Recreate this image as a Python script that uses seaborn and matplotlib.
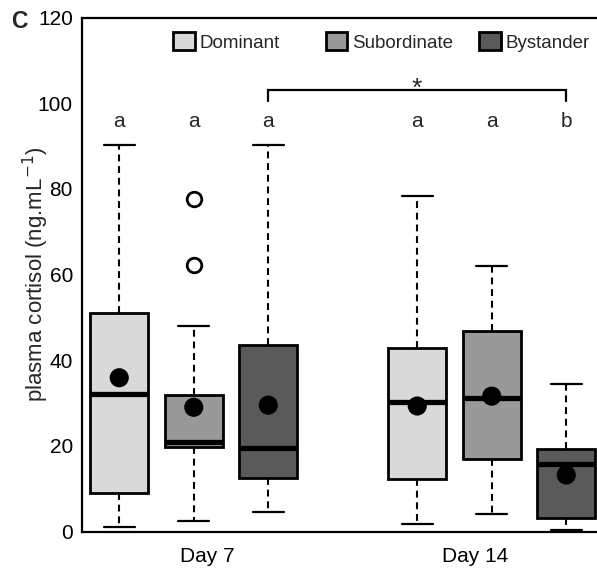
import numpy as np
import pandas as pd
import matplotlib
matplotlib.use("Agg")
import matplotlib.pyplot as plt
from matplotlib.patches import Patch
from matplotlib.legend import Legend
import seaborn as sns

# ---------------- data ----------------
days = ["Day 7", "Day 14"]
roles = ["Dominant", "Subordinate", "Bystander"]
role_colors = ["#d9d9d9", "#999999", "#5a5a5a"]

# order: Day7 (Dom, Sub, Bys), Day14 (Dom, Sub, Bys)
whisker_low = [1.0, 2.4, 4.5, 1.7, 4.0, 0.4]
q1 =          [9.1, 19.8, 12.6, 12.3, 16.9, 3.1]
median =      [32.1, 21.0, 19.4, 30.3, 31.1, 15.7]
q3 =          [51.1, 31.9, 43.5, 42.9, 46.9, 19.3]
whisker_high = [90.3, 48.0, 90.3, 78.3, 62.1, 34.5]
outliers = [[], [62.2, 77.6], [], [], [], []]
means =       [35.9, 29.0, 29.5, 29.3, 31.6, 13.2]
letters = ["a", "a", "a", "a", "a", "b"]

# ---------------- style ----------------
sns.set_style("white")
plt.rcParams["font.family"] = ["Liberation Sans", "DejaVu Sans"]
FS = 15
LFS = 13.5

fig = plt.figure(figsize=(5.97, 5.69), dpi=100)
ax = fig.add_axes([82 / 597, (569 - 531.5) / 569, 521.5 / 597, 514 / 569])

rows = []
for gi, day in enumerate(days):
    for ri, role in enumerate(roles):
        rows.append({"day": day, "role": role, "pos": gi * 4 + ri + 1})
df = pd.DataFrame(rows)
df["whislo"] = whisker_low
df["q1"] = q1
df["med"] = median
df["q3"] = q3
df["whishi"] = whisker_high
df["mean"] = means
df["letter"] = letters

stats = []
for i, r in df.iterrows():
    stats.append(dict(whislo=r.whislo, q1=r.q1, med=r.med, q3=r.q3,
                      whishi=r.whishi, fliers=outliers[i], label=""))

dash = (0, (3.3, 2.3))
bp = ax.bxp(stats, positions=df["pos"].tolist(), widths=0.78,
            capwidths=0.42, patch_artist=True, showfliers=True,
            boxprops=dict(linewidth=2.0, edgecolor="black"),
            medianprops=dict(linewidth=3.8, color="black", solid_capstyle="butt"),
            whiskerprops=dict(linewidth=1.5, color="black", linestyle=dash),
            capprops=dict(linewidth=1.6, color="black"),
            flierprops=dict(marker="o", markersize=10.5, markerfacecolor="white",
                            markeredgecolor="black", markeredgewidth=2.0))
for i, box in enumerate(bp["boxes"]):
    box.set_facecolor(role_colors[roles.index(df.loc[i, "role"])])

sns.scatterplot(data=df, x="pos", y="mean", color="black", s=190,
                edgecolor="none", ax=ax, zorder=5, legend=False)

# significance letters
for _, r in df.iterrows():
    ax.text(r.pos, 94.4, r.letter, ha="center", va="baseline", fontsize=FS)

# bracket between bystanders
bx0 = df.loc[(df.day == "Day 7") & (df.role == "Bystander"), "pos"].iloc[0]
bx1 = df.loc[(df.day == "Day 14") & (df.role == "Bystander"), "pos"].iloc[0]
ax.plot([bx0, bx0, bx1, bx1], [100.6, 103.1, 103.1, 100.6], color="black", lw=1.6,
        solid_joinstyle="miter")
ax.text((bx0 + bx1) / 2, 101.6, "*", ha="center", va="baseline", fontsize=19)

ax.set_xlim(0.5, 7.5)
ax.set_ylim(0, 120)
ax.set_yticks([0, 20, 40, 60, 80, 100, 120])
ax.set_xticks([2.18, 5.78])
ax.set_xticklabels(days)
ax.tick_params(axis="both", length=0, labelsize=FS, colors="black")
ax.tick_params(axis="y", pad=6.5)
ax.tick_params(axis="x", pad=11)
ax.set_xlabel("")
ax.set_ylabel("plasma cortisol (ng.mL$^{-1}$)", fontsize=16, va="center")
ax.yaxis.set_label_coords(-0.088, 0.5)
for sp in ax.spines.values():
    sp.set_color("black")
    sp.set_linewidth(1.6)

# legend: one entry per anchor, as in the reference
leg_x = [173, 325.7, 479]
for role, color, lx in zip(roles, role_colors, leg_x):
    h = Patch(facecolor=color, edgecolor="black", linewidth=2.0, joinstyle="round")
    lg = Legend(ax, [h], [role], loc="center left",
                bbox_to_anchor=(lx / 597, 1 - 41.7 / 569),
                bbox_transform=fig.transFigure, frameon=False, fontsize=LFS,
                handlelength=1.15, handleheight=1.15, handletextpad=0.28,
                borderpad=0, borderaxespad=0)
    ax.add_artist(lg)

fig.text(11 / 597, 1 - 27.5 / 569, "C", fontsize=16.5, fontweight="bold",
         va="baseline", ha="left")

fig.savefig("out.png", dpi=100)
